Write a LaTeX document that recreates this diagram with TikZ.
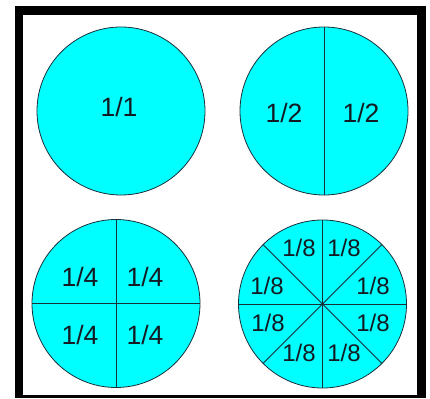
\documentclass[tikz,border=0pt]{standalone}
\usepackage{fontspec}
\setmainfont{Liberation Sans}
\definecolor{kreis}{HTML}{00FFFF}
\definecolor{strich}{HTML}{17303A}
\definecolor{schrift}{HTML}{141A22}
\tikzset{scheibe/.style={fill=kreis,draw=strich,line width=0.8pt},
  teilung/.style={strich,line width=0.8pt},
  bruch/.style={inner sep=0,text=schrift,font=\fontsize{26.5}{30}\selectfont},
  achtel/.style={inner sep=0,text=schrift,font=\fontsize{24}{28}\selectfont}}

\begin{document}
\begin{tikzpicture}[x=1pt,y=-1pt]
\useasboundingbox (0,0) rectangle (430,398);
\fill[black] (15,6) rectangle (426,398);
\fill[white] (23,15) rectangle (417,395);
\coordinate (ganz) at (121,111);
\coordinate (halb) at (324,111);
\coordinate (viertel) at (116,303.5);
\coordinate (acht) at (322.5,304);
\draw[scheibe] (ganz) circle (84);
\node[bruch] (g1) at (119,107) {1/1};
\draw[scheibe] (halb) circle (84);
\foreach \w in {90,270} \draw[teilung] (halb) -- ++(\w:84);
\node[bruch] (h1) at (284,113) {1/2};
\node[bruch] (h2) at (361,113) {1/2};
\draw[scheibe] (viertel) circle (84);
\foreach \w in {0,90,...,270} \draw[teilung] (viertel) -- ++(\w:84);
\node[bruch] (v1) at (80,277) {1/4};
\node[bruch] (v2) at (145,277) {1/4};
\node[bruch] (v3) at (80,335) {1/4};
\node[bruch] (v4) at (145,335) {1/4};
\draw[scheibe] (acht) circle (84);
\foreach \w in {0,45,...,315} \draw[teilung] (acht) -- ++(\w:84);
\fill[strich] (acht) circle (1.6);
\node[achtel] (a1) at (299,248) {1/8};
\node[achtel] (a2) at (344,248) {1/8};
\node[achtel] (a3) at (267,286) {1/8};
\node[achtel] (a4) at (373,286) {1/8};
\node[achtel] (a5) at (268,323) {1/8};
\node[achtel] (a6) at (373,323) {1/8};
\node[achtel] (a7) at (299,353) {1/8};
\node[achtel] (a8) at (344,353) {1/8};
\end{tikzpicture}
\end{document}
